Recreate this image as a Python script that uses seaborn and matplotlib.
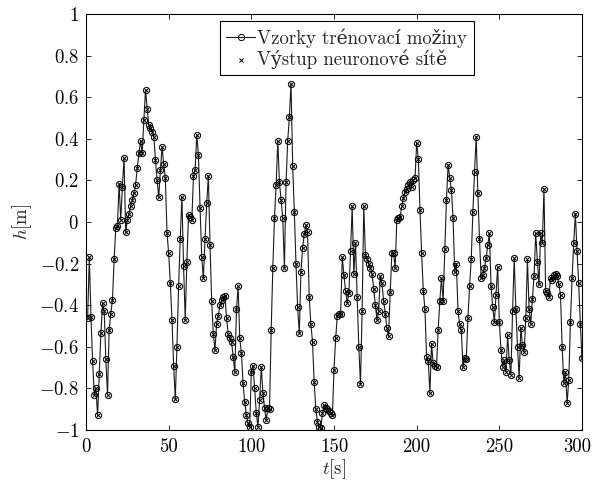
import numpy as np
import pandas as pd
import matplotlib
matplotlib.use('Agg')
import matplotlib.pyplot as plt
import matplotlib.transforms as mtransforms
import seaborn as sns

# training samples h[m], one per second
h_part1 = [-0.46, -0.17, -0.455, -0.67, -0.83, -0.80, -0.93, -0.73, -0.535, -0.39,
           -0.43, -0.66, -0.83, -0.52, -0.44, -0.375, -0.18, -0.03, -0.02, 0.185,
           0.01, 0.17, 0.31, -0.05, 0.01, 0.04, 0.075, 0.105, 0.14, 0.18,
           0.26, 0.33, 0.39, 0.33, 0.49, 0.635, 0.545, 0.465, 0.45, 0.435,
           0.41, 0.30, 0.20, 0.12, 0.25, 0.36, 0.28, 0.21, -0.055, -0.15,
           -0.295, -0.47, -0.69, -0.85, -0.60, -0.31, -0.08, 0.12, -0.21, -0.47,
           -0.19, 0.035, 0.025, 0.01, 0.22, 0.25, 0.42, 0.32, 0.065, -0.17,
           -0.27]
h_part2 = [-0.08, 0.09, 0.22, -0.11, -0.38, -0.54, -0.615, -0.49, -0.45, -0.40,
           -0.375, -0.36, -0.355, -0.46, -0.54, -0.56, -0.575, -0.65, -0.72, -0.42,
           -0.31, -0.56, -0.63, -0.776, -0.864, -0.928, -0.968, -0.984, -0.72, -0.69,
           -0.80, -0.92, -0.984, -0.856, -0.696, -0.82, -0.895, -0.952, -0.895, -0.90,
           -0.52, -0.22, 0.02, 0.18, 0.39, 0.19, 0.105, 0.02, -0.22, 0.19,
           0.39, 0.505, 0.665, 0.27, 0.05, -0.20, -0.41, -0.535, -0.24, -0.125,
           -0.06, -0.015, -0.05, -0.36, -0.49, -0.575, -0.77, -0.90, -0.96, -0.985]
h_part3 = [-0.99, -0.92, -0.88, -0.895, -0.90, -0.91, -0.92, -0.93, -0.71, -0.56,
           -0.45, -0.44, -0.44, -0.17, -0.255, -0.33, -0.39, -0.34, -0.14, 0.075,
           -0.25, -0.10, -0.36, -0.60, -0.78, -0.43, 0.075, -0.16, -0.18, -0.20,
           -0.22, -0.25, -0.32, -0.40, -0.47, -0.43, -0.26, -0.295, -0.38, -0.44,
           -0.51, -0.55, -0.335, -0.15, -0.15, -0.22, 0.01, 0.02, 0.025, 0.075,
           0.115, 0.145, 0.16, 0.18, 0.19, 0.17, 0.20, 0.21, 0.38, 0.305,
           0.06, -0.15, -0.33, -0.42, -0.65, -0.67, -0.82, -0.585, -0.68, -0.69,
           -0.695, -0.52, -0.38, -0.27, -0.38, -0.13, 0.105, 0.275]
h_part4 = [0.21, 0.155, 0.02, -0.24, -0.20, -0.43, -0.49, -0.52, -0.695, -0.655,
           -0.66, -0.46, -0.31, -0.18, 0.05, 0.24, 0.41, 0.14, -0.08, -0.27,
           -0.255, -0.22, -0.175, -0.11, -0.055, -0.31, -0.41, -0.48, -0.35, -0.215,
           -0.48, -0.615, -0.695, -0.665, -0.72, -0.545, -0.665, -0.735, -0.43, -0.175,
           -0.42, -0.60, -0.75, -0.51, -0.59, -0.625, -0.46, -0.18, -0.42, -0.49,
           -0.37, -0.26, -0.055, -0.19, -0.30, -0.055, -0.10, 0.16, -0.33, -0.34,
           -0.36, -0.27, -0.28, -0.255, -0.25, -0.26, -0.30, -0.35, -0.60, -0.775,
           -0.72, -0.87, -0.76, -0.48, -0.27, -0.10, 0.04, -0.14, -0.295, -0.49,
           -0.655]

h_train = np.array(h_part1 + h_part2 + h_part3 + h_part4)
t_sec = np.arange(1, len(h_train) + 1)   # sampled every second
h_net = h_train.copy()                   # network output sits on the samples

xticks = [0, 50, 100, 150, 200, 250, 300]
yticks = [-1, -0.8, -0.6, -0.4, -0.2, 0, 0.2, 0.4, 0.6, 0.8, 1]
ytick_labels = ['$-1$', '$-0.8$', '$-0.6$', '$-0.4$', '$-0.2$', '$0$',
                '$0.2$', '$0.4$', '$0.6$', '$0.8$', '$1$']
labels = ['Vzorky trénovací možiny', 'Výstup neuronové sítě']

df = pd.DataFrame({'t': t_sec, 'train': h_train, 'net': h_net})

sns.set_theme(style='ticks')
plt.rcParams['font.family'] = ['cmr10', 'DejaVu Serif']
plt.rcParams['mathtext.fontset'] = 'cm'
plt.rcParams['axes.unicode_minus'] = True

fs = 13.5
fig = plt.figure(figsize=(5.94, 4.83), dpi=100)
ax = fig.add_axes([0.1448, 0.1097, 0.835, 0.8613])

sns.lineplot(data=df, x='t', y='train', ax=ax, color='#1a1a1a', lw=0.8,
             marker='o', markersize=4.5, markerfacecolor='none',
             markeredgecolor='black', markeredgewidth=0.7, label=labels[0])
sns.scatterplot(data=df, x='t', y='net', ax=ax, marker='x', color='black',
                s=9, linewidth=0.7, label=labels[1], zorder=3)

ax.set_xlim(0, 300)
ax.set_ylim(-1, 1)
ax.set_xticks(xticks)
ax.set_xticklabels([str(v) for v in xticks])
ax.set_yticks(yticks)
ax.set_yticklabels(ytick_labels)
ax.tick_params(direction='in', top=True, right=True, length=3.5, width=0.6,
               labelsize=fs, colors='black')
ax.tick_params(axis='x', pad=6)
ax.tick_params(axis='y', pad=5)
for s in ax.spines.values():
    s.set_color('black')
    s.set_linewidth(0.8)

# keep the last x label inside the canvas
last = ax.get_xticklabels()[-1]
last.set_transform(last.get_transform() +
                   mtransforms.ScaledTranslation(-5 / 100, 0, fig.dpi_scale_trans))

ax.set_xlabel('$t$[s]', fontsize=fs, labelpad=1)
ax.set_ylabel('$h$[m]', fontsize=fs, labelpad=4)

leg = ax.legend(loc='upper center', bbox_to_anchor=(0.526, 0.982), fontsize=fs,
                frameon=True, fancybox=False, framealpha=1, edgecolor='black',
                handlelength=1.5, handletextpad=0.15, borderpad=0.35,
                labelspacing=0.1, borderaxespad=0)
leg.get_frame().set_linewidth(0.8)

fig.savefig('out.png', dpi=100)
